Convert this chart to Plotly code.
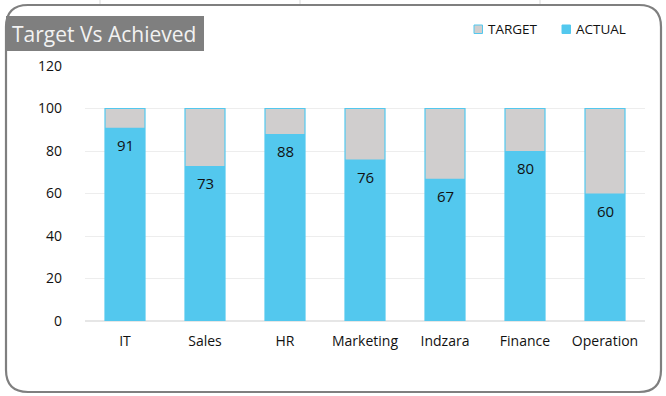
import plotly.graph_objects as go

categories = ["IT", "Sales", "HR", "Marketing", "Indzara", "Finance", "Operation"]
target = [100, 100, 100, 100, 100, 100, 100]
actual = [91, 73, 88, 76, 67, 80, 60]
y_ticks = [0, 20, 40, 60, 80, 100, 120]
series_names = ["TARGET", "ACTUAL"]

BLUE = "#53C8EE"
GRAY = "#D0CECE"
FONT = "Open Sans, Lato, sans-serif"

fig = go.Figure()
fig.add_trace(go.Bar(
    x=categories, y=target, name=series_names[0],
    marker=dict(color=GRAY, line=dict(color=BLUE, width=1.2)),
    width=0.5, hoverinfo="skip",
))
fig.add_trace(go.Bar(
    x=categories, y=actual, name=series_names[1],
    marker=dict(color=BLUE, line=dict(width=0)),
    width=0.5,
))

for c, v in zip(categories, actual):
    fig.add_annotation(x=c, y=v, text=str(v), showarrow=False,
                       yanchor="top", yshift=-5,
                       font=dict(size=15, color="#111111", family=FONT))

def px(xp):
    return (xp - 85) / 560
def py(yp):
    return (321 - yp) / 255

shapes = []
# outer Excel-like grid lines (behind the card)
for xv in [100, 300, 540]:
    shapes.append(dict(type="line", xref="paper", yref="paper",
                       x0=px(xv), x1=px(xv), y0=py(0), y1=py(4),
                       line=dict(color="#D9D9D9", width=1), layer="below"))

# rounded card border
L, R, T, B = 6, 661, 5, 392
r = 22
path = (f"M {px(L+r)},{py(T)} L {px(R-r)},{py(T)} Q {px(R)},{py(T)} {px(R)},{py(T+r)} "
        f"L {px(R)},{py(B-r)} Q {px(R)},{py(B)} {px(R-r)},{py(B)} "
        f"L {px(L+r)},{py(B)} Q {px(L)},{py(B)} {px(L)},{py(B-r)} "
        f"L {px(L)},{py(T+r)} Q {px(L)},{py(T)} {px(L+r)},{py(T)} Z")
shapes.append(dict(type="path", xref="paper", yref="paper", path=path,
                   line=dict(color="#7F7F7F", width=2.2), fillcolor="rgba(0,0,0,0)",
                   layer="below"))
# title box
shapes.append(dict(type="rect", xref="paper", yref="paper",
                   x0=px(6), x1=px(204), y0=py(16), y1=py(51),
                   fillcolor="#7F7F7F", line=dict(width=0), layer="above"))
fig.add_annotation(xref="paper", yref="paper", x=px(10), y=py(34),
                   xanchor="left", yanchor="middle", showarrow=False,
                   text="Target Vs Achieved",
                   font=dict(size=21, color="#F2F2F2", family=FONT))

# legend (manual, matching Excel layout)
legend_items = [(series_names[0], GRAY, BLUE, 474), (series_names[1], BLUE, BLUE, 562)]
for name, fill, edge, x0 in legend_items:
    shapes.append(dict(type="rect", xref="paper", yref="paper",
                       x0=px(x0), x1=px(x0 + 8.5), y0=py(25), y1=py(33.5),
                       fillcolor=fill, line=dict(color=edge, width=1)))
    fig.add_annotation(xref="paper", yref="paper", x=px(x0 + 12), y=py(29),
                       xanchor="left", yanchor="middle", showarrow=False,
                       text=name, font=dict(size=13.5, color="#111111", family=FONT))

fig.update_layout(
    width=666, height=396,
    margin=dict(l=85, r=21, t=66, b=75),
    paper_bgcolor="white", plot_bgcolor="white",
    barmode="overlay",
    shapes=shapes,
    showlegend=False,
    xaxis=dict(showgrid=False, showline=False, zeroline=False, ticks="",
               tickfont=dict(size=14, color="#111111", family=FONT), ticklabelstandoff=10),
    yaxis=dict(range=[0, 120], tickvals=y_ticks, showgrid=True, gridcolor="#EDEDED",
               gridwidth=1, zeroline=True, zerolinecolor="#E6E6E6", showline=False,
               ticks="", tickfont=dict(size=14, color="#111111", family=FONT),
               ticklabelstandoff=22),
    hovermode=False,
)

fig.write_html("out.html", config={"displayModeBar": False, "staticPlot": True},
               post_script="document.body.style.margin='0';document.body.style.overflow='hidden';")
